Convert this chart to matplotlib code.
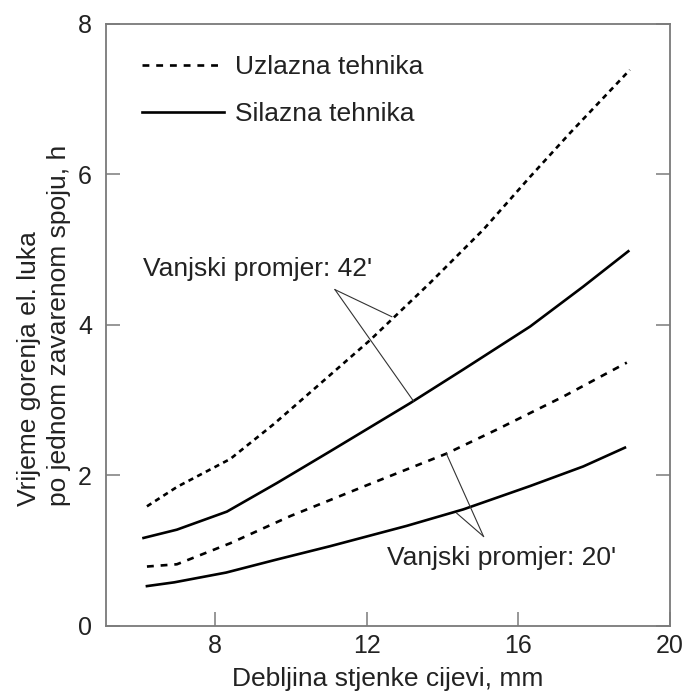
import matplotlib
matplotlib.use("Agg")
import matplotlib.pyplot as plt

plt.rcParams['font.family'] = ['Liberation Sans', 'DejaVu Sans']

# Data
x_up42 = [6.2, 7.0, 8.4, 9.54, 10.68, 12.09, 13.67, 15.08, 16.31, 17.36, 18.94]
y_up42 = [1.59, 1.85, 2.22, 2.68, 3.18, 3.80, 4.56, 5.27, 5.97, 6.55, 7.39]

x_down42 = [6.11, 6.99, 8.31, 9.63, 11.03, 13.14, 14.55, 16.31, 17.71, 18.9]
y_down42 = [1.17, 1.28, 1.52, 1.90, 2.32, 2.96, 3.41, 3.98, 4.51, 4.98]

x_up20 = [6.2, 6.99, 8.4, 9.98, 12.0, 14.1, 15.43, 17.19, 18.86]
y_up20 = [0.79, 0.82, 1.10, 1.46, 1.87, 2.29, 2.61, 3.05, 3.50]

x_down20 = [6.2, 6.92, 8.29, 9.6, 11.03, 13.05, 14.55, 16.31, 17.71, 18.81]
y_down20 = [0.53, 0.58, 0.71, 0.88, 1.06, 1.33, 1.55, 1.86, 2.12, 2.37]

xticks = [8, 12, 16, 20]
yticks = [0, 2, 4, 6, 8]

label_up = "Uzlazna tehnika"
label_down = "Silazna tehnika"
note42 = "Vanjski promjer: 42'"
note20 = "Vanjski promjer: 20'"

# annotation leader lines: (apex, target1, target2)
lead42 = [(11.16, 4.47), (12.66, 4.11), (13.23, 2.99)]
lead20 = [(15.08, 1.19), (14.1, 2.29), (14.37, 1.50)]

fig = plt.figure(figsize=(6.83, 6.93), dpi=100)
ax = fig.add_axes([0.1552, 0.0967, 0.8258, 0.8687])

lw = 1.9
ax.plot(x_up42, y_up42, color='black', lw=lw, linestyle=(0, (2.0, 1.7)))
ax.plot(x_down42, y_down42, color='black', lw=lw)
l_up, = ax.plot(x_up20, y_up20, color='black', lw=lw, linestyle=(0, (2.6, 2.6)), label=label_up)
l_down, = ax.plot(x_down20, y_down20, color='black', lw=lw, label=label_down)

for lead in (lead42, lead20):
    apex = lead[0]
    for tgt in lead[1:]:
        ax.plot([apex[0], tgt[0]], [apex[1], tgt[1]], color='#333333', lw=0.8)

fs = 19
ax.text(6.1, 4.75, note42, fontsize=fs, color='#222222', va='center', ha='left')
ax.text(12.53, 0.91, note20, fontsize=fs, color='#222222', va='center', ha='left')

ax.legend(handles=[l_up, l_down], loc='upper left', bbox_to_anchor=(0.064, 0.948),
          frameon=False, fontsize=fs, handlelength=3.1, handletextpad=0.42,
          labelspacing=0.86, borderpad=0, borderaxespad=0, labelcolor='#222222')

ax.set_xlim(5.12, 20)
ax.set_ylim(0, 8)
ax.set_xticks(xticks)
ax.set_yticks(yticks)

spine_c = '#7a7a7a'
for s in ax.spines.values():
    s.set_color(spine_c)
    s.set_linewidth(1.3)

ax.tick_params(axis='both', direction='in', length=10, width=1.1, color=spine_c,
               labelsize=18, labelcolor='#222222')
ax.tick_params(axis='x', pad=6)
ax.tick_params(axis='y', right=True, pad=10)

ax.set_xlabel("Debljina stjenke cijevi, mm", fontsize=fs, color='#222222', labelpad=6)
ax.set_ylabel("Vrijeme gorenja el. luka\npo jednom zavarenom spoju, h", fontsize=fs,
              color='#222222', multialignment='left', labelpad=5, linespacing=1.3)

fig.savefig("out.png", dpi=100)
